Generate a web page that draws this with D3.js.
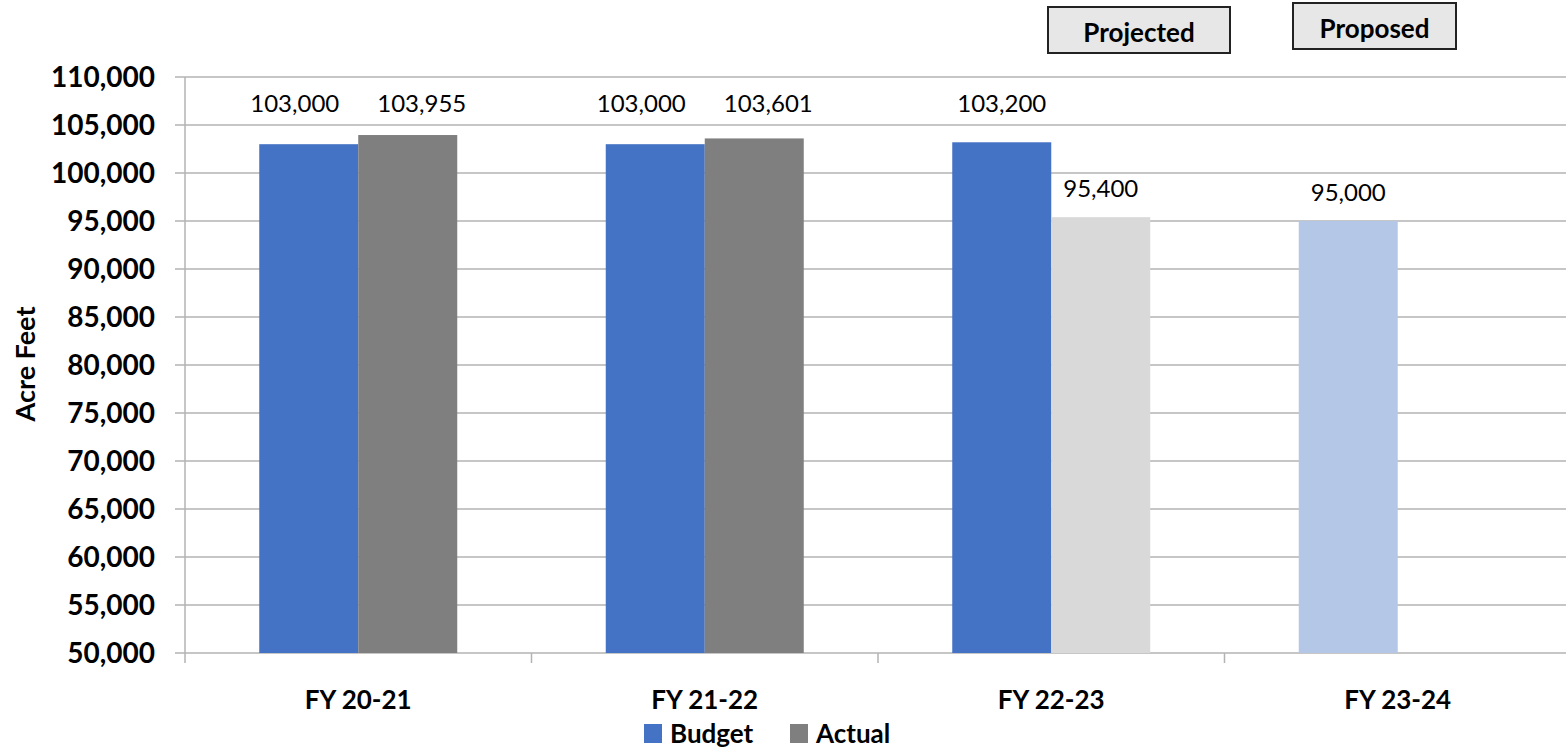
<!DOCTYPE html>
<html>
<head>
<meta charset="utf-8">
<script src="https://cdn.jsdelivr.net/npm/d3@7"></script>
<style>
  body { margin: 0; background: #fff; }
  svg { display: block; font-family: Lato, "Open Sans", sans-serif; }
</style>
</head>
<body>
<svg id="chart" width="1566" height="749"></svg>
<script>
const categories = ["FY 20-21", "FY 21-22", "FY 22-23", "FY 23-24"];
const budget = [103000, 103000, 103200, 95000];
const actual = [103955, 103601, 95400, null];
const status = ["Actual", "Actual", "Projected", "Proposed"];
const yTicks = [50000, 55000, 60000, 65000, 70000, 75000, 80000, 85000, 90000, 95000, 100000, 105000, 110000];

const seriesNames = ["Budget", "Actual"];
const colors = { Budget: "#4472C4", Actual: "#7F7F7F", Proposed: "#B4C7E7", Projected: "#D9D9D9" };

const svg = d3.select("#chart");
const plotLeft = 185, plotRight = 1571, plotTop = 77, plotBottom = 653;

const x = d3.scaleBand().domain(categories).range([plotLeft, plotRight]);
const inner = d3.scaleBand().domain(seriesNames).range([0, x.bandwidth()]).paddingOuter(0.75).paddingInner(0);
const y = d3.scaleLinear().domain([50000, 110000]).range([plotBottom, plotTop]);
const fmt = d3.format(",");

// gridlines
svg.append("g")
  .selectAll("line")
  .data(yTicks)
  .enter()
  .append("line")
  .attr("x1", plotLeft - 10)
  .attr("x2", plotRight)
  .attr("y1", d => y(d))
  .attr("y2", d => y(d))
  .attr("stroke", "#b3b3b3")
  .attr("stroke-width", 1.5);

// y tick labels
svg.append("g")
  .selectAll("text")
  .data(yTicks)
  .enter()
  .append("text")
  .attr("x", 155)
  .attr("y", d => y(d))
  .attr("dy", "0.36em")
  .attr("text-anchor", "end")
  .attr("font-size", 28)
  .attr("font-weight", "bold")
  .text(d => fmt(d));

// rows of bars
const rows = [];
categories.forEach((c, i) => {
  [budget[i], actual[i]].forEach((v, k) => {
    if (v === null) return;
    const s = seriesNames[k];
    let color = colors[s];
    if (status[i] === "Projected" && s === "Actual") color = colors.Projected;
    if (status[i] === "Proposed" && s === "Budget") color = colors.Proposed;
    rows.push({ cat: c, series: s, value: v, color, k });
  });
});

svg.append("g")
  .selectAll("rect")
  .data(rows)
  .enter()
  .append("rect")
  .attr("x", d => x(d.cat) + inner(d.series))
  .attr("width", inner.bandwidth())
  .attr("y", d => y(d.value))
  .attr("height", d => plotBottom - y(d.value))
  .attr("fill", d => d.color);

// value labels: those near the top snap to one line, and spread apart when both in a group do
const labelTop = plotTop + 35;
const snapped = d => y(d.value) - 20 < labelTop + 20;
const bothSnapped = c => rows.filter(r => r.cat === c).every(snapped);
svg.append("g")
  .selectAll("text")
  .data(rows)
  .enter()
  .append("text")
  .attr("x", d => {
    const cx = x(d.cat) + inner(d.series) + inner.bandwidth() / 2;
    if (!bothSnapped(d.cat)) return cx;
    return cx + (d.k === 0 ? -14 : 14);
  })
  .attr("y", d => snapped(d) ? labelTop : y(d.value) - 20)
  .attr("text-anchor", "middle")
  .attr("font-size", 24)
  .text(d => fmt(d.value));

// axis lines
svg.append("line")
  .attr("x1", plotLeft).attr("x2", plotLeft)
  .attr("y1", plotTop).attr("y2", plotBottom + 10)
  .attr("stroke", "#b3b3b3").attr("stroke-width", 1.5);

svg.append("g")
  .selectAll("line")
  .data(categories.slice(1))
  .enter()
  .append("line")
  .attr("x1", d => x(d)).attr("x2", d => x(d))
  .attr("y1", plotBottom).attr("y2", plotBottom + 10)
  .attr("stroke", "#b3b3b3").attr("stroke-width", 1.5);

// category labels
svg.append("g")
  .selectAll("text")
  .data(categories)
  .enter()
  .append("text")
  .attr("x", d => x(d) + x.bandwidth() / 2)
  .attr("y", 709)
  .attr("text-anchor", "middle")
  .attr("font-size", 26)
  .attr("font-weight", "bold")
  .text(d => d);

// y axis title
svg.append("text")
  .attr("transform", "translate(35,364) rotate(-90)")
  .attr("text-anchor", "middle")
  .attr("font-size", 27)
  .attr("font-weight", "bold")
  .text("Acre Feet");

// legend
const legend = svg.append("g");
const legendItems = [
  { name: "Budget", x: 644 },
  { name: "Actual", x: 790 }
];
legendItems.forEach(it => {
  legend.append("rect")
    .attr("x", it.x).attr("y", 724)
    .attr("width", 18).attr("height", 19)
    .attr("fill", colors[it.name]);
  legend.append("text")
    .attr("x", it.x + 26).attr("y", 743)
    .attr("font-size", 26)
    .attr("font-weight", "bold")
    .text(it.name);
});

// annotation boxes
const boxes = [
  { label: "Projected", x: 1048, y: 7, w: 182, h: 46 },
  { label: "Proposed", x: 1293, y: 3, w: 163, h: 46 }
];
boxes.forEach(b => {
  svg.append("rect")
    .attr("x", b.x).attr("y", b.y)
    .attr("width", b.w).attr("height", b.h)
    .attr("fill", "#e7e7e7")
    .attr("stroke", "#222").attr("stroke-width", 2);
  svg.append("text")
    .attr("x", b.x + b.w / 2).attr("y", b.y + b.h / 2 + 12)
    .attr("text-anchor", "middle")
    .attr("font-size", 26)
    .attr("font-weight", "bold")
    .text(b.label);
});
</script>
</body>
</html>
